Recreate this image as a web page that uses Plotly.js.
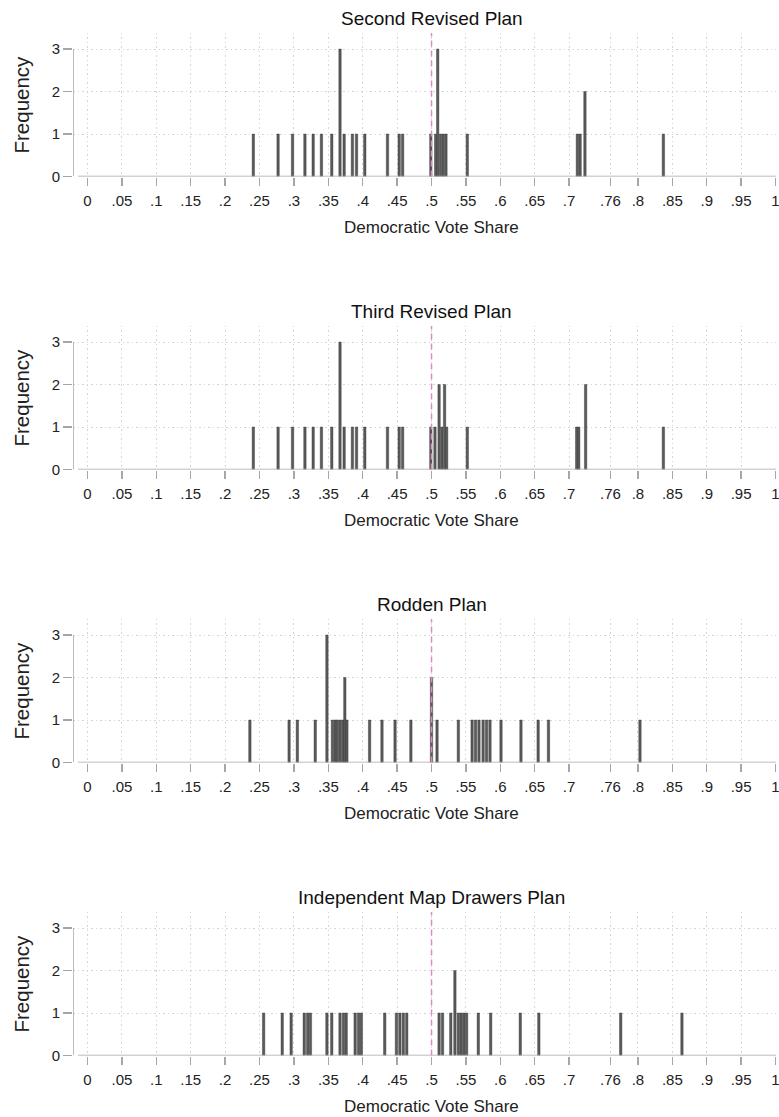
<!DOCTYPE html>
<html>
<head>
<meta charset="utf-8">
<script src="https://cdn.plot.ly/plotly-3.0.1.min.js"></script>
<style>html,body{margin:0;padding:0;background:#fff;}#chart{width:779px;height:1117px;}</style>
</head>
<body>
<div id="chart"></div>
<script>
// ---- data ----
const planTitles = ["Second Revised Plan", "Third Revised Plan", "Rodden Plan", "Independent Map Drawers Plan"];

const secondShare = [0.241, 0.277, 0.298, 0.316, 0.328, 0.340, 0.355, 0.367, 0.373, 0.385, 0.391, 0.403, 0.436, 0.453, 0.458, 0.499, 0.506, 0.509, 0.513, 0.517, 0.521, 0.552, 0.712, 0.716, 0.723, 0.837];
const secondFreq  = [1, 1, 1, 1, 1, 1, 1, 3, 1, 1, 1, 1, 1, 1, 1, 1, 1, 3, 1, 1, 1, 1, 1, 1, 2, 1];

const thirdShare = [0.241, 0.277, 0.298, 0.316, 0.328, 0.340, 0.355, 0.367, 0.373, 0.385, 0.391, 0.403, 0.436, 0.453, 0.458, 0.499, 0.505, 0.511, 0.515, 0.519, 0.522, 0.552, 0.711, 0.714, 0.724, 0.837];
const thirdFreq  = [1, 1, 1, 1, 1, 1, 1, 3, 1, 1, 1, 1, 1, 1, 1, 1, 1, 2, 1, 2, 1, 1, 1, 1, 2, 1];

const roddenShare = [0.236, 0.293, 0.305, 0.331, 0.348, 0.356, 0.360, 0.363, 0.367, 0.371, 0.374, 0.377, 0.410, 0.428, 0.447, 0.470, 0.500, 0.508, 0.539, 0.559, 0.564, 0.569, 0.575, 0.580, 0.585, 0.601, 0.630, 0.655, 0.670, 0.803];
const roddenFreq  = [1, 1, 1, 1, 3, 1, 1, 1, 1, 1, 2, 1, 1, 1, 1, 1, 2, 1, 1, 1, 1, 1, 1, 1, 1, 1, 1, 1, 1, 1];

const imdShare = [0.256, 0.283, 0.296, 0.315, 0.320, 0.324, 0.348, 0.355, 0.367, 0.372, 0.376, 0.389, 0.394, 0.398, 0.432, 0.449, 0.454, 0.459, 0.464, 0.511, 0.516, 0.528, 0.534, 0.539, 0.543, 0.547, 0.551, 0.568, 0.586, 0.629, 0.656, 0.775, 0.864];
const imdFreq  = [1, 1, 1, 1, 1, 1, 1, 1, 1, 1, 1, 1, 1, 1, 1, 1, 1, 1, 1, 1, 1, 1, 2, 1, 1, 1, 1, 1, 1, 1, 1, 1, 1];

const xTickVals = [0, 0.05, 0.1, 0.15, 0.2, 0.25, 0.3, 0.35, 0.4, 0.45, 0.5, 0.55, 0.6, 0.65, 0.7, 0.76, 0.8, 0.85, 0.9, 0.95, 1];
const xTickText = ["0", ".05", ".1", ".15", ".2", ".25", ".3", ".35", ".4", ".45", ".5", ".55", ".6", ".65", ".7", ".76", ".8", ".85", ".9", ".95", "1"];
const yTickVals = [0, 1, 2, 3];
const refLine = 0.5;

const shares = [secondShare, thirdShare, roddenShare, imdShare];
const freqs = [secondFreq, thirdFreq, roddenFreq, imdFreq];

// ---- layout ----
const W = 779, H = 1117;
const px = v => v / W;
const py = v => 1 - v / H;
const font = "Liberation Sans, Arial, sans-serif";
const axisColor = "#a6a6a6";
const gridColor = "#d4d4d4";
const yTop = 3.38;
const xMin = -0.0211, xMax = 1.0007;   // axis range (plot edge to edge)
const xLineStart = -0.0138;            // where the drawn x axis line begins

const traces = [];
const layout = {
  width: W, height: H,
  margin: {l: 0, r: 0, t: 0, b: 0},
  paper_bgcolor: "#fff", plot_bgcolor: "#fff",
  showlegend: false, hovermode: false,
  font: {family: font, color: "#222"},
  shapes: [], annotations: []
};

for (let i = 0; i < 4; i++) {
  const s = i === 0 ? "" : String(i + 1);
  const base = 176.5 + 293 * i;          // pixel row of y = 0
  const top = base - yTop * 42.5;        // pixel row of domain top
  traces.push({
    type: "bar", x: shares[i], y: freqs[i], width: 0.0035,
    xaxis: "x" + s, yaxis: "y" + s,
    marker: {color: "#5a5a5a", line: {color: "#333", width: 0.4}}
  });
  layout["xaxis" + s] = {
    domain: [px(73), px(776)], range: [xMin, xMax], anchor: "y" + s,
    tickmode: "array", tickvals: xTickVals, ticktext: xTickText,
    ticks: "outside", ticklen: 8, tickwidth: 1.3, tickcolor: axisColor,
    ticklabeloverflow: "allow", ticklabelstandoff: 2,
    showline: false,
    showgrid: true, gridcolor: gridColor, griddash: "1.5px,3px", gridwidth: 1,
    zeroline: false, tickfont: {size: 15, color: "#222"}, fixedrange: true
  };
  layout["yaxis" + s] = {
    domain: [py(base), py(top)], range: [0, yTop], anchor: "x" + s,
    tickmode: "array", tickvals: yTickVals,
    ticks: "outside", ticklen: 9, tickwidth: 1.3, tickcolor: axisColor,
    ticksuffix: "\u00a0\u00a0\u00a0",
    showline: false, showgrid: true, gridcolor: gridColor, griddash: "1.5px,3px", gridwidth: 1,
    zeroline: false, tickfont: {size: 15, color: "#222"}, fixedrange: true
  };
  // x axis line
  layout.shapes.push({type: "line", xref: "x" + s, yref: "y" + s, x0: xLineStart, x1: xMax, y0: 0, y1: 0,
    line: {color: axisColor, width: 1.5}});
  // y axis line from 0 to 3
  layout.shapes.push({type: "line", xref: "x" + s, yref: "y" + s, x0: xMin, x1: xMin, y0: 0, y1: 3,
    line: {color: axisColor, width: 1.5}});
  // reference line at 0.5
  layout.shapes.push({type: "line", xref: "x" + s, yref: "y" + s, x0: refLine, x1: refLine, y0: 0, y1: yTop,
    line: {color: "#dc8cbe", width: 1.5, dash: "6px,4px"}});
  layout.annotations.push({text: planTitles[i], xref: "paper", yref: "paper", x: px(431.5), y: py(base - 158),
    xanchor: "center", yanchor: "middle", showarrow: false, font: {size: 19, color: "#111"}});
  layout.annotations.push({text: "Democratic Vote Share", xref: "paper", yref: "paper", x: px(431.5), y: py(base + 51),
    xanchor: "center", yanchor: "middle", showarrow: false, font: {size: 17, color: "#222"}});
  layout.annotations.push({text: "Frequency", xref: "paper", yref: "paper", x: px(21), y: py(base - 72),
    xanchor: "center", yanchor: "middle", textangle: -90, showarrow: false, font: {size: 20.5, color: "#222"}});
}

Plotly.newPlot("chart", traces, layout, {displayModeBar: false, staticPlot: true});
</script>
</body>
</html>
